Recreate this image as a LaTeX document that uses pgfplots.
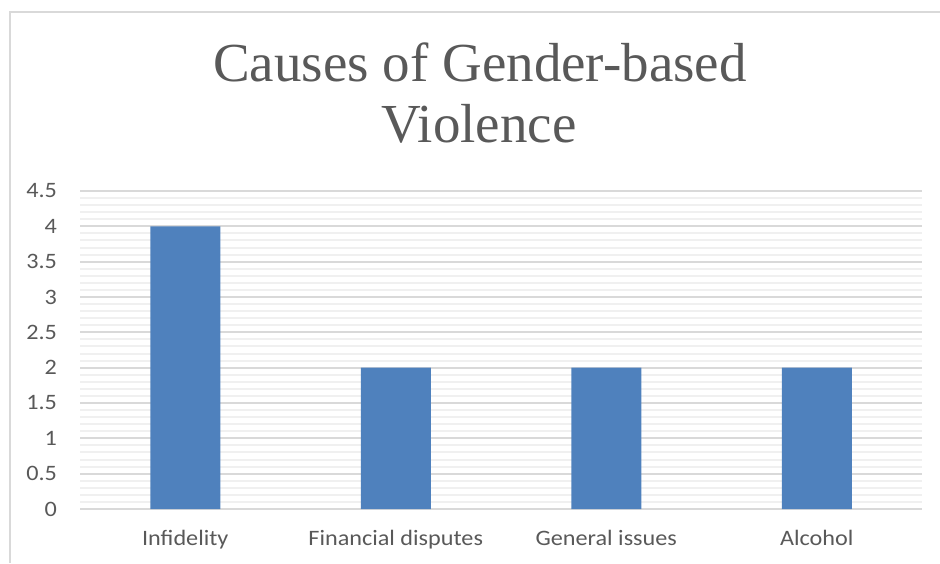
\documentclass[border=0pt]{standalone}
\usepackage{pgfplots}
\pgfplotsset{compat=1.18}
\usepackage{fontspec}
\setmainfont{Carlito}
\newfontfamily\xlabfont[FakeStretch=1.1]{Carlito}
\newfontfamily\titlefont{Liberation Serif}
\definecolor{barblue}{HTML}{4F81BD}
\definecolor{majgrid}{HTML}{D9D9D9}
\definecolor{mingrid}{HTML}{F0F0F0}
\definecolor{txt}{HTML}{595959}
\begin{document}
\begin{tikzpicture}[x=1pt,y=1pt]
\useasboundingbox (0,0) rectangle (470,281.5);
\draw[majgrid, line width=1pt] (5,0) -- (5,275.5) -- (470,275.5);
\begin{axis}[
  at={(40pt,27pt)}, anchor=south west,
  width=421pt, height=159pt, scale only axis,
  xmin=-0.5, xmax=3.5, ymin=0, ymax=4.5,
  ytick={0,0.5,1,1.5,2,2.5,3,3.5,4,4.5},
  minor y tick num=4,
  ymajorgrids, yminorgrids,
  major grid style={majgrid, line width=1pt},
  minor grid style={mingrid, line width=1pt},
  axis line style={draw=none},
  major tick length=0pt, minor tick length=0pt,
  xtick={0,1,2,3},
  xticklabels={Infidelity, Financial disputes, General issues, Alcohol},
  tick label style={text=txt},
  /pgf/number format/assume math mode=true,
  yticklabel style={font=\xlabfont\fontsize{11}{13}\selectfont, xshift=-8.0pt},
  xticklabel style={font=\xlabfont\fontsize{11}{13}\selectfont, yshift=-7.3pt},
  ybar, bar width=35pt,
]
\addplot[fill=barblue, draw=none] coordinates {(0,4) (1,2) (2,2) (3,2)};
\end{axis}
\node[anchor=base, text=txt, font=\titlefont\fontsize{27.5}{30}\selectfont, inner sep=0pt] at (240,240.5) {Causes of Gender-based};
\node[anchor=base, text=txt, font=\titlefont\fontsize{27.5}{30}\selectfont, inner sep=0pt] at (239.5,210) {Violence};
\end{tikzpicture}
\end{document}
